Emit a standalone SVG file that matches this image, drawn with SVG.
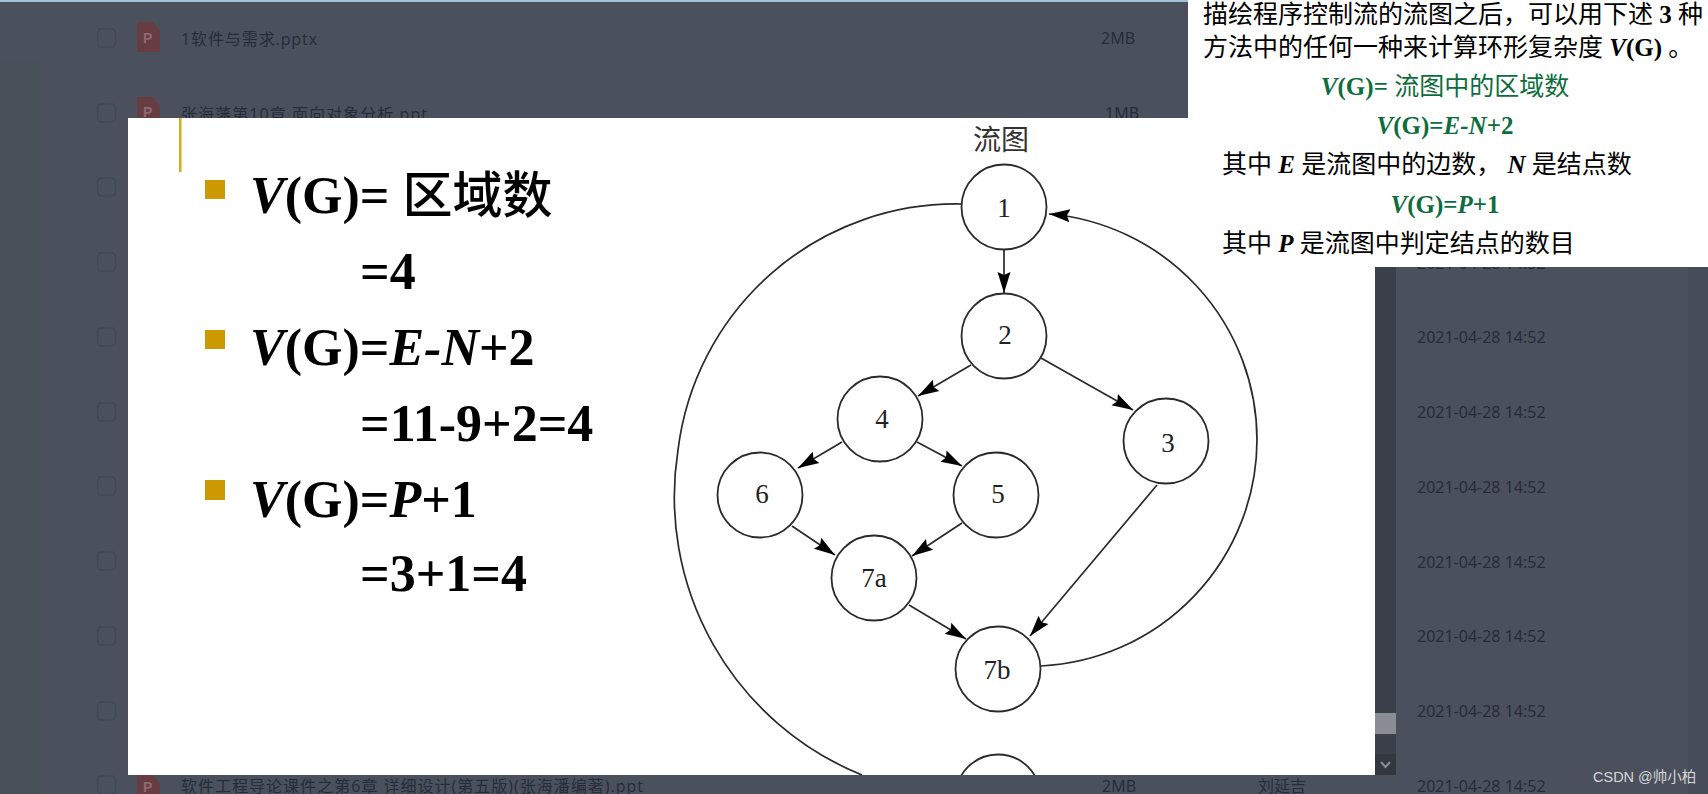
<svg xmlns="http://www.w3.org/2000/svg" width="1708" height="794" viewBox="0 0 1708 794">
<style>
.bgt{font-family:"Noto Sans","Noto Sans CJK SC",sans-serif;font-size:16px;fill:#262c3b}
.fn{font-family:"Open Sans","Noto Sans CJK SC",sans-serif;font-size:16px;fill:#262c3b}
.cb{fill:none;stroke:#3f4a58;stroke-width:1.5}
.ico{fill:#673c42}
.icp{font-family:"Liberation Sans",sans-serif;font-weight:700;font-size:14px;fill:#8e6a6e}
.s{font-family:"Liberation Serif","Noto Sans CJK SC",serif;font-weight:700;font-size:52px;fill:#000}
.cj{font-family:"Noto Sans CJK SC",sans-serif;font-weight:500}
.i{font-style:italic}
.p{font-family:"Liberation Serif","Noto Sans CJK SC",serif;font-size:25px;font-weight:700;fill:#000}
.pc{font-family:"Noto Sans CJK SC",sans-serif;font-weight:400}
.g{fill:#0d6d3d;text-anchor:middle}
.bul{fill:#cc9900}
.nd{fill:#fff;stroke:#2a2a2a;stroke-width:1.8}
.lb{font-family:"Liberation Serif",serif;font-size:27px;fill:#222;text-anchor:middle}
.e{fill:none;stroke:#2a2a2a;stroke-width:1.7}
.a{marker-end:url(#ah)}
</style>
<defs>
<marker id="ah" markerUnits="userSpaceOnUse" markerWidth="22" markerHeight="16" refX="21" refY="8" orient="auto">
<path d="M0 1.500L21 8L0 14.500L3 8Z" fill="#000"/>
</marker>
<clipPath id="sl"><rect x="128" y="118" width="1247" height="657"/></clipPath>
<path id="icon" class="ico" d="M0 0H16L23 9V30H0Z"/>
</defs>

<g id="background">
<rect width="1708" height="794" fill="#4a515c"/>
<rect x="0" y="60" width="40" height="734" fill="#48505a"/>
<rect x="1688" y="0" width="20" height="794" fill="#474d58"/>
<rect width="1708" height="2" fill="#a5bfd6"/>
<rect class="cb" x="97.500" y="29" width="18" height="18" rx="4"/>
<rect class="cb" x="97.500" y="104" width="18" height="18" rx="4"/>
<rect class="cb" x="97.500" y="178" width="18" height="18" rx="4"/>
<rect class="cb" x="97.500" y="253" width="18" height="18" rx="4"/>
<rect class="cb" x="97.500" y="328" width="18" height="18" rx="4"/>
<rect class="cb" x="97.500" y="403" width="18" height="18" rx="4"/>
<rect class="cb" x="97.500" y="477" width="18" height="18" rx="4"/>
<rect class="cb" x="97.500" y="552" width="18" height="18" rx="4"/>
<rect class="cb" x="97.500" y="627" width="18" height="18" rx="4"/>
<rect class="cb" x="97.500" y="702" width="18" height="18" rx="4"/>
<rect class="cb" x="97.500" y="776" width="18" height="18" rx="4"/>
<use href="#icon" x="137" y="22"/><text class="icp" x="143" y="43">P</text>
<use href="#icon" x="137" y="97"/><text class="icp" x="143" y="117">P</text>
<use href="#icon" x="137" y="775"/><text class="icp" x="143" y="792">P</text>
<text class="fn" x="181" y="45" textLength="136">1软件与需求.pptx</text>
<text class="fn" x="181" y="120" textLength="246">张海藩第10章 面向对象分析.ppt</text>
<text class="fn" x="181" y="792" textLength="462">软件工程导论课件之第6章 详细设计(第五版)(张海潘编著).ppt</text>
<text class="bgt" x="1101" y="44">2MB</text>
<text class="bgt" x="1105" y="119">1MB</text>
<text class="bgt" x="1102" y="792">2MB</text>
<text class="fn" x="1258" y="792">刘延吉</text>
<text class="bgt" x="1417" y="269">2021-04-28 14:52</text>
<text class="bgt" x="1417" y="343">2021-04-28 14:52</text>
<text class="bgt" x="1417" y="418">2021-04-28 14:52</text>
<text class="bgt" x="1417" y="493">2021-04-28 14:52</text>
<text class="bgt" x="1417" y="568">2021-04-28 14:52</text>
<text class="bgt" x="1417" y="642">2021-04-28 14:52</text>
<text class="bgt" x="1417" y="717">2021-04-28 14:52</text>
<text class="bgt" x="1417" y="792">2021-04-28 14:52</text>
<rect x="1375" y="267" width="21" height="508" fill="#3b414b"/>
<rect x="1375" y="713" width="21" height="21" fill="#8a8d96"/>
<rect x="1375" y="754" width="21" height="21" fill="#33383f"/>
<path d="M1381 762l4.500 5 4.500-5" fill="none" stroke="#8a8d96" stroke-width="2"/>
<text x="1593" y="782" font-family="'Liberation Sans','Noto Sans CJK SC',sans-serif" font-size="14.500" fill="#d5d7da">CSDN @帅小柏</text>
</g>

<g id="slide">
<rect x="128" y="118" width="1247" height="657" fill="#fff"/>
<rect x="179" y="118" width="2.500" height="54" fill="#d9a920"/>
<rect class="bul" x="205" y="180" width="20" height="19"/>
<rect class="bul" x="205" y="330" width="20" height="19"/>
<rect class="bul" x="205" y="480" width="20" height="20"/>
<text class="s" x="250" y="213"><tspan class="i">V</tspan>(G)= <tspan class="cj" font-size="50">区域数</tspan></text>
<text class="s" x="360" y="289">=4</text>
<text class="s" x="250" y="365"><tspan class="i">V</tspan>(G)=<tspan class="i">E-N</tspan>+2</text>
<text class="s" x="360" y="441">=11-9+2=4</text>
<text class="s" x="250" y="517"><tspan class="i">V</tspan>(G)=<tspan class="i">P</tspan>+1</text>
<text class="s" x="360" y="591">=3+1=4</text>
<text x="973" y="150" font-family="'Noto Sans CJK SC',sans-serif" font-size="28" fill="#333">流图</text>
</g>

<g id="connectors" clip-path="url(#sl)">
<path class="e" d="M962 204A280 280 0 0 0 678 450A300 300 0 0 0 862 775"/>
<path class="e a" d="M1041 666A227 227 0 0 0 1257 440A227 227 0 0 0 1049 214"/>
<path class="e a" d="M1004 249V293"/>
<path class="e a" d="M971 365L918 396"/>
<path class="e a" d="M1041 358L1133 410"/>
<path class="e a" d="M842 442L798 468"/>
<path class="e a" d="M917 442L962 466"/>
<path class="e a" d="M792 526L835 555"/>
<path class="e a" d="M962 523L912 556"/>
<path class="e a" d="M909 605L966 639"/>
<path class="e a" d="M1157 485L1030 636"/>
</g>

<g id="n1"><circle class="nd" cx="1004" cy="207" r="42.500"/><text class="lb" x="1004" y="217">1</text></g>
<g id="n2"><circle class="nd" cx="1004" cy="336" r="42.500"/><text class="lb" x="1005" y="344">2</text></g>
<g id="n4"><circle class="nd" cx="880" cy="419" r="42.500"/><text class="lb" x="882" y="428">4</text></g>
<g id="n3"><circle class="nd" cx="1166" cy="441" r="42.500"/><text class="lb" x="1168" y="452">3</text></g>
<g id="n6"><circle class="nd" cx="760" cy="495" r="42.500"/><text class="lb" x="762" y="503">6</text></g>
<g id="n5"><circle class="nd" cx="996" cy="495" r="42.500"/><text class="lb" x="998" y="503">5</text></g>
<g id="n7a"><circle class="nd" cx="874" cy="578" r="42.500"/><text class="lb" x="874" y="587">7a</text></g>
<g id="n7b"><circle class="nd" cx="998" cy="669" r="42.500"/><text class="lb" x="997" y="679">7b</text></g>
<g id="n8" clip-path="url(#sl)"><circle class="nd" cx="998" cy="797" r="42.500"/></g>

<g id="panel">
<rect x="1188" y="0" width="520" height="267" fill="#fff"/>
<text class="p" x="1203" y="23" xml:space="preserve"><tspan class="pc">描绘程序控制流的流图之后，可以用下述</tspan> 3 <tspan class="pc">种</tspan></text>
<text class="p" x="1203" y="56" xml:space="preserve"><tspan class="pc">方法中的任何一种来计算环形复杂度</tspan> <tspan class="i">V</tspan>(G) <tspan class="pc">。</tspan></text>
<text class="p g" x="1445" y="95" xml:space="preserve"><tspan class="i">V</tspan>(G)= <tspan class="pc">流图中的区域数</tspan></text>
<text class="p g" x="1445" y="134"><tspan class="i">V</tspan>(G)=<tspan class="i">E-N</tspan>+2</text>
<text class="p" x="1222" y="173" xml:space="preserve"><tspan class="pc">其中</tspan> <tspan class="i">E</tspan> <tspan class="pc">是流图中的边数，</tspan> <tspan class="i">N</tspan> <tspan class="pc">是结点数</tspan></text>
<text class="p g" x="1445" y="213"><tspan class="i">V</tspan>(G)=<tspan class="i">P</tspan>+1</text>
<text class="p" x="1222" y="252" xml:space="preserve"><tspan class="pc">其中</tspan> <tspan class="i">P</tspan> <tspan class="pc">是流图中判定结点的数目</tspan></text>
</g>
</svg>
